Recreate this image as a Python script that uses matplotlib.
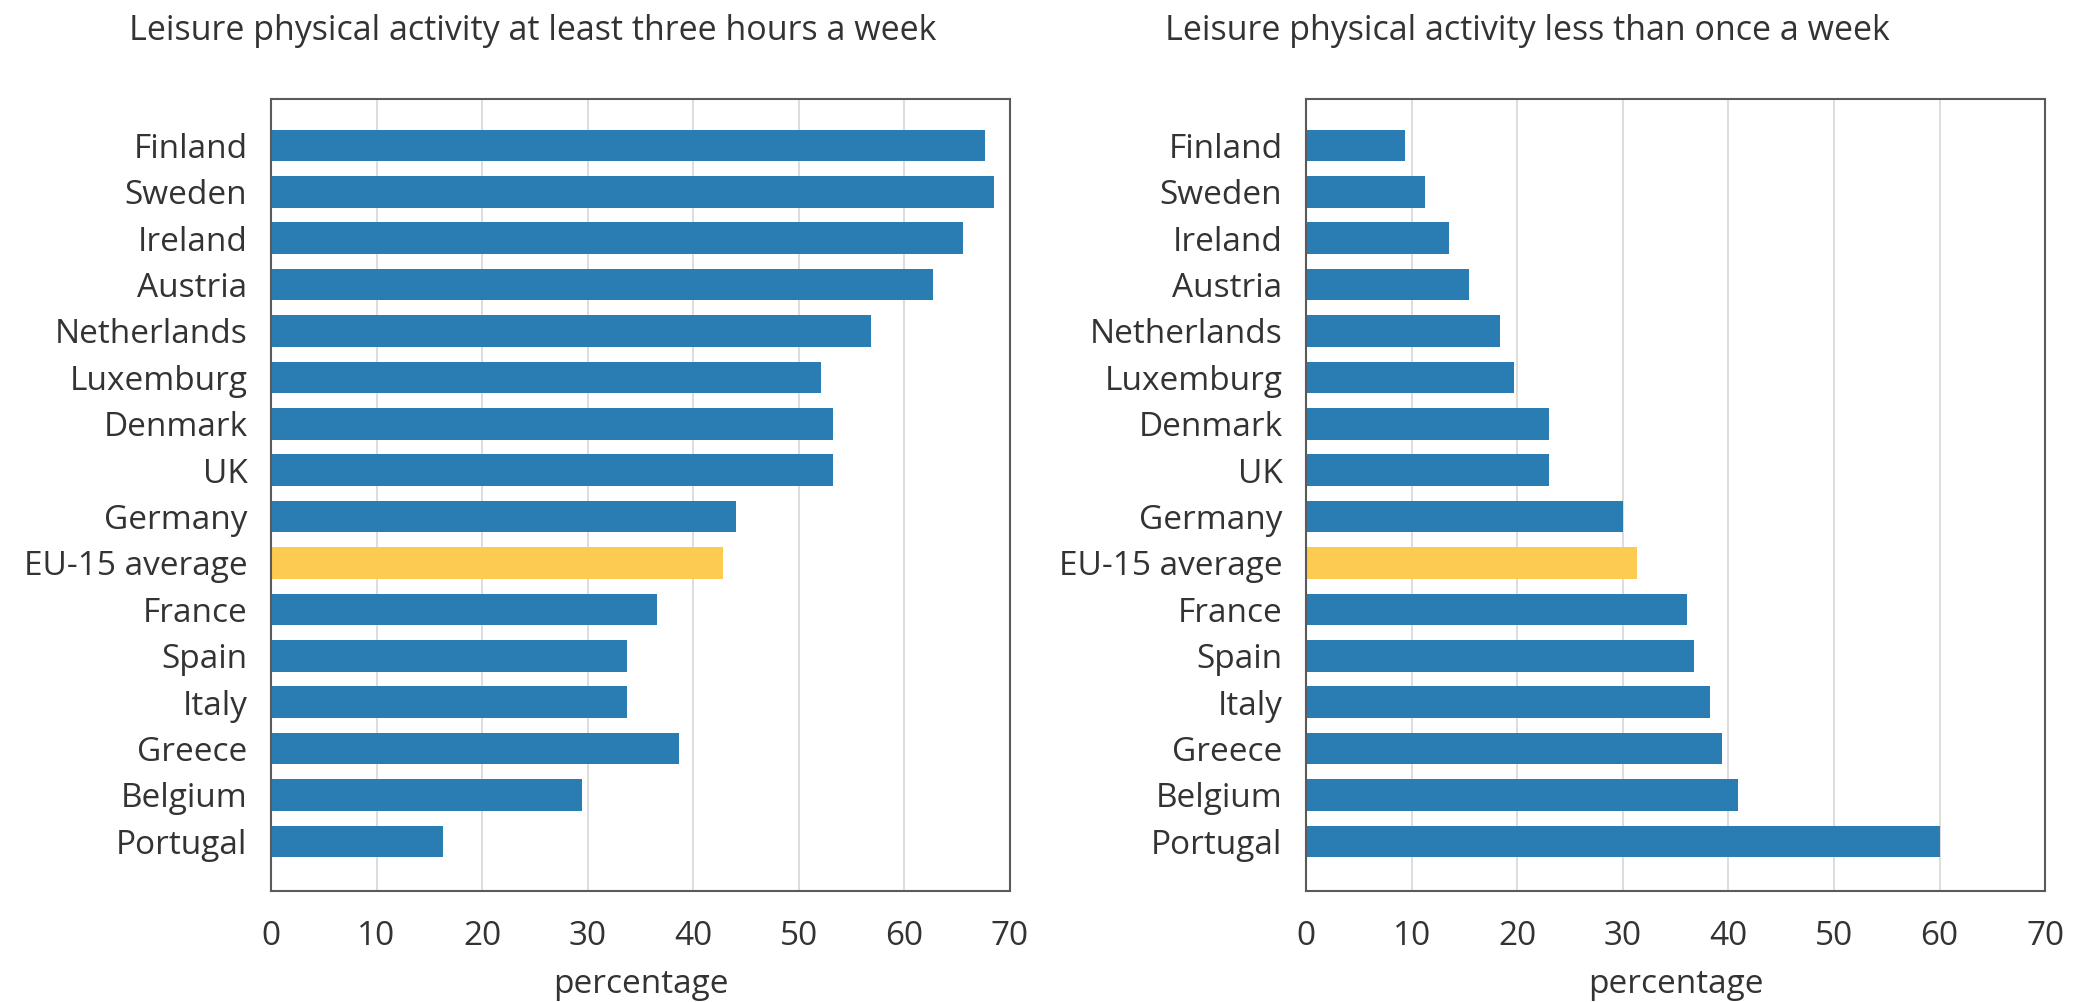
import matplotlib
matplotlib.use("Agg")
import matplotlib.pyplot as plt

plt.rcParams['font.family'] = ['Open Sans', 'DejaVu Sans']

countries_left = ["Finland", "Sweden", "Ireland", "Austria", "Netherlands", "Luxemburg",
                  "Denmark", "UK", "Germany", "EU-15 average", "France", "Spain", "Italy",
                  "Greece", "Belgium", "Portugal"]
values_left = [67.6, 68.5, 65.5, 62.7, 56.8, 52.1, 53.2, 53.2, 44.0, 42.8, 36.6, 33.7,
               33.7, 38.6, 29.5, 16.3]

countries_right = ["Finland", "Sweden", "Ireland", "Austria", "Netherlands", "Luxemburg",
                   "Denmark", "UK", "Germany", "EU-15 average", "France", "Spain", "Italy",
                   "Greece", "Belgium", "Portugal"]
values_right = [9.4, 11.3, 13.5, 15.4, 18.4, 19.7, 23.0, 23.0, 30.0, 31.3, 36.1, 36.7,
                38.3, 39.4, 40.9, 60.0]

title_left = "Leisure physical activity at least three hours a week"
title_right = "Leisure physical activity less than once a week"
xticks = [0, 10, 20, 30, 40, 50, 60, 70]

blue = "#2a7db2"
yellow = "#fdcb52"
text_col = "#333333"

fig = plt.figure(figsize=(20.83, 10.02), dpi=100)
ax1 = fig.add_axes([0.1301, 0.1108, 0.3548, 0.7904])
ax2 = fig.add_axes([0.6270, 0.1108, 0.3548, 0.7904])


def draw_panel(ax, names, vals):
    colors = [yellow if n.startswith("EU-15") else blue for n in names]
    ax.barh(range(len(names)), vals, height=0.68, color=colors, zorder=2)
    ax.set_xlim(0, 70)
    ax.set_ylim(len(names) - 1 + 1.07, -1.0)
    ax.set_yticks(range(len(names)))
    ax.set_yticklabels(names)
    ax.set_xticks(xticks)
    ax.grid(axis='x', color="#dadada", linewidth=1.3, zorder=0)
    ax.tick_params(axis='both', length=0, labelsize=24, labelcolor=text_col)
    ax.tick_params(axis='y', pad=17)
    ax.tick_params(axis='x', pad=21)
    for s in ax.spines.values():
        s.set_color("#5a5a5a")
        s.set_linewidth(1.5)
    ax.set_xlabel("percentage", fontsize=24, color=text_col, labelpad=11)


draw_panel(ax1, countries_left, values_left)
draw_panel(ax2, countries_right, values_right)

fig.text(129 / 2083, 1 - 40 / 1002, title_left, fontsize=24.5, color=text_col,
         ha='left', va='baseline')
fig.text(1165 / 2083, 1 - 40 / 1002, title_right, fontsize=24.5, color=text_col,
         ha='left', va='baseline')

fig.savefig("out.png", dpi=100)
